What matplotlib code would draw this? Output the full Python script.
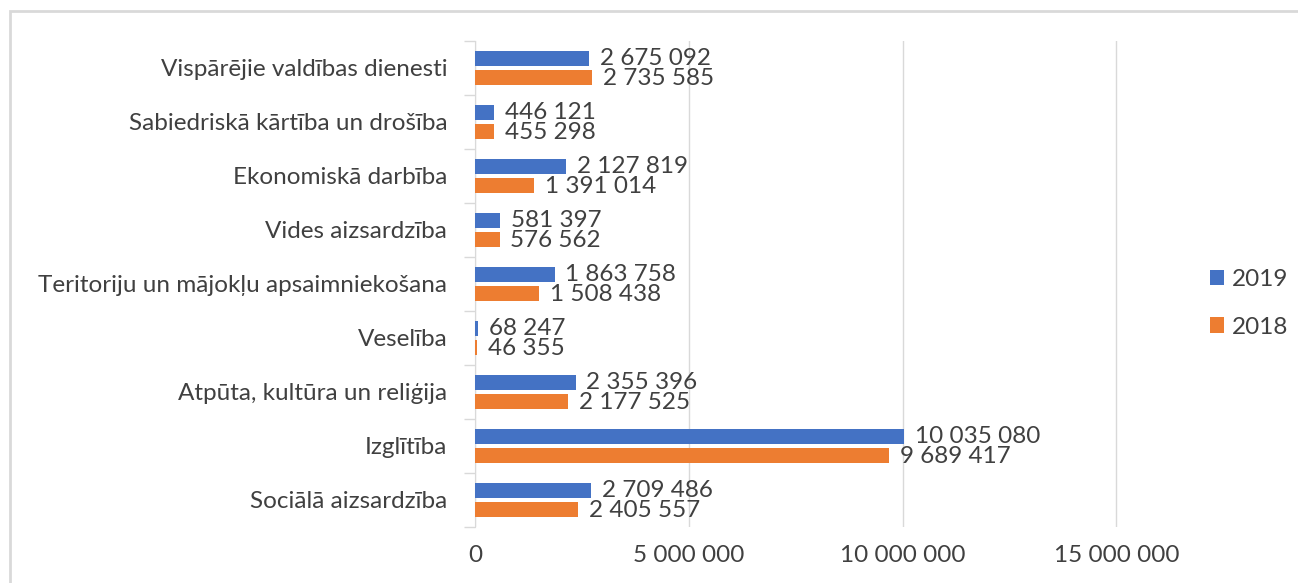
import matplotlib.pyplot as plt
from matplotlib.patches import Rectangle

plt.rcParams['font.family'] = ['Lato', 'DejaVu Sans']

categories = ['Vispārējie valdības dienesti',
              'Sabiedriskā kārtība un drošība',
              'Ekonomiskā darbība',
              'Vides aizsardzība',
              'Teritoriju un mājokļu apsaimniekošana',
              'Veselība',
              'Atpūta, kultūra un reliģija',
              'Izglītība',
              'Sociālā aizsardzība']
v2019 = [2675092, 446121, 2127819, 581397, 1863758, 68247, 2355396, 10035080, 2709486]
v2018 = [2735585, 455298, 1391014, 576562, 1508438, 46355, 2177525, 9689417, 2405557]
xticks = [0, 5000000, 10000000, 15000000]

blue = '#4472C4'
orange = '#ED7D31'
txt = '#404040'
fs = 17.5


def fmt(v):
    return f"{v:,}".replace(",", " ")


fig = plt.figure(figsize=(12.98, 5.83), dpi=100)
# chart border
fig.patches.append(Rectangle((10/1298, -0.01), 1.1, 1 - 11/583 + 0.01,
                             transform=fig.transFigure, fill=False,
                             edgecolor='#d9d9d9', linewidth=2))

ax = fig.add_axes([475/1298, 1 - 527/583, (1118 - 475)/1298, (527 - 41)/583])

y = list(range(len(categories)))
off = 0.18
h = 0.27
b1 = ax.barh([i - off for i in y], v2019, height=h, color=blue, label='2019', zorder=3)
b2 = ax.barh([i + off for i in y], v2018, height=h, color=orange, label='2018', zorder=3)

for i in y:
    ax.text(v2019[i] + 250000, i - off, fmt(v2019[i]), va='center', ha='left',
            fontsize=fs, color=txt)
    ax.text(v2018[i] + 250000, i + off + 0.02, fmt(v2018[i]), va='center', ha='left',
            fontsize=fs, color=txt)

ax.set_ylim(len(categories) - 0.5, -0.5)
ax.set_xlim(0, 15040000)
ax.set_yticks(y)
ax.set_yticklabels(categories, fontsize=fs, color=txt)
ax.set_yticks([i - 0.5 for i in range(len(categories) + 1)], minor=True)
ax.tick_params(axis='y', which='major', length=0, pad=20)
ax.tick_params(axis='y', which='minor', length=8, color='#d9d9d9', width=1)
ax.set_xticks(xticks)
ax.set_xticklabels([fmt(v) for v in xticks], fontsize=fs, color=txt)
ax.tick_params(axis='x', length=0, pad=13)
ax.grid(axis='x', color='#d9d9d9', linewidth=1, zorder=0)
for s in ['top', 'right', 'bottom']:
    ax.spines[s].set_visible(False)
ax.spines['left'].set_color('#d9d9d9')

fig.legend(handles=[b1, b2], loc='upper left', bbox_to_anchor=(1188/1298, 1 - 247/583),
           frameon=False, fontsize=fs, labelcolor=txt, handlelength=0.6,
           handleheight=0.6, handletextpad=0.3, labelspacing=1.1)

plt.savefig('out.png', dpi=100)
